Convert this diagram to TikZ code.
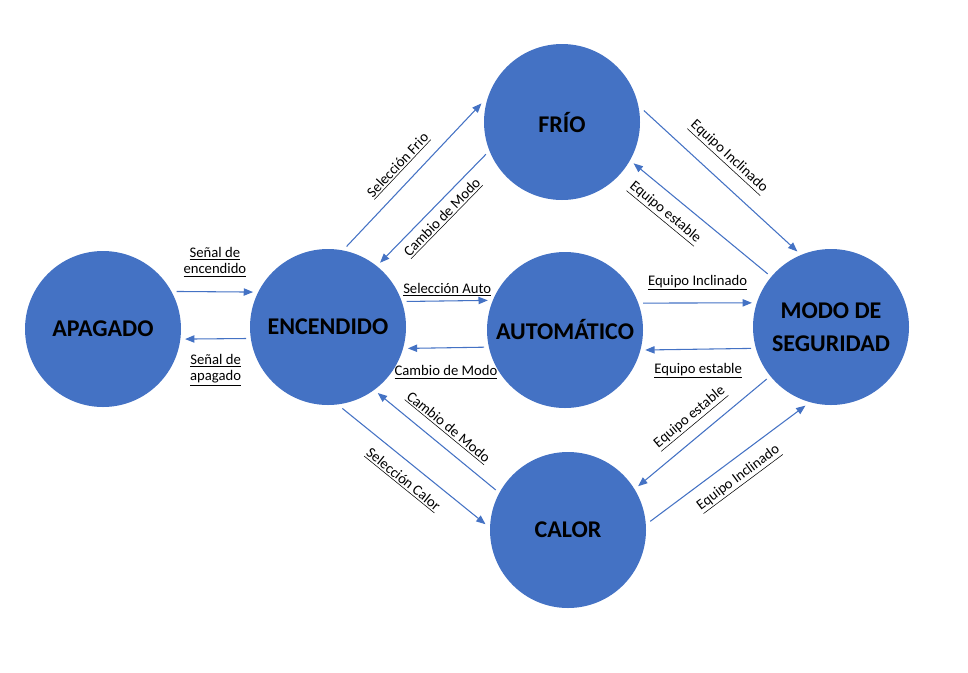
\documentclass[tikz,border=0pt]{standalone}
\usepackage{fontspec}
\setmainfont{Carlito}
\usetikzlibrary{arrows.meta}
\definecolor{azul}{HTML}{4472C4}

\begin{document}
\begin{tikzpicture}[x=0.75pt,y=-0.75pt,
    estado/.style={shape=circle,fill=azul,minimum size=117pt,inner sep=0pt,outer sep=3.5pt,align=center,font=\bfseries\fontsize{18}{25}\selectfont},
    flecha/.style={color=azul,line width=0.8pt,-{Triangle[length=7pt,width=5.5pt]}},
    etiqueta/.style={text=black,font=\fontsize{11}{12.5}\selectfont,align=center,inner sep=2pt}]
  \useasboundingbox (0,0) rectangle (968,672);

  \node[estado] (apagado) at (103,329) {APAGADO};
  \node[estado] (encendido) at (328,327) {ENCENDIDO};
  \node[estado] (frio) at (562,122) {FRÍO};
  \node[estado] (auto) at (565,330) {AUTOMÁTICO};
  \node[estado] (seguridad) at (831,327) {MODO DE\\SEGURIDAD};
  \node[estado] (calor) at (568,530) {CALOR};

  \draw[flecha] (apagado.27) -- node[etiqueta,above=9pt] {\underline{Señal de}\\\underline{encendido}} (encendido.155);
  \draw[flecha] (encendido.188) -- node[etiqueta,below=9pt] {\underline{Señal de}\\\underline{apagado}} (apagado.-7);
  \draw[flecha] (encendido.77) -- node[etiqueta,sloped,above=6pt,pos=0.48] {\underline{Selección Frio}} (frio.167);
  \draw[flecha] (frio.203) -- node[etiqueta,sloped,below=3pt] {\underline{Cambio de Modo}} (encendido.51);
  \draw[flecha] (encendido.18) -- node[etiqueta,above=1pt] {\underline{Selección Auto}} (auto.159);
  \draw[flecha] (auto.192) -- node[etiqueta,below=11pt] {\underline{Cambio de Modo}} (encendido.-15);
  \draw[flecha] (frio.8) -- node[etiqueta,sloped,above=9pt,pos=0.45] {\underline{Equipo Inclinado}} (seguridad.114);
  \draw[flecha] (seguridad.140) -- node[etiqueta,sloped,below=6pt,pos=0.68] {\underline{Equipo estable}} (frio.-30);
  \draw[flecha] (auto.19) -- node[etiqueta,above=7pt] {\underline{Equipo Inclinado}} (seguridad.163);
  \draw[flecha] (seguridad.195) -- node[etiqueta,below=8pt] {\underline{Equipo estable}} (auto.-14);
  \draw[flecha] (seguridad.219) -- node[etiqueta,sloped,above=6pt] {\underline{Equipo estable}} (calor.32);
  \draw[flecha] (calor.6) -- node[etiqueta,sloped,below=6pt] {\underline{Equipo Inclinado}} (seguridad.252);
  \draw[flecha] (encendido.280) -- node[etiqueta,sloped,below=6pt] {\underline{Selección Calor}} (calor.176);
  \draw[flecha] (calor.151) -- node[etiqueta,sloped,above=6pt] {\underline{Cambio de Modo}} (encendido.307);
\end{tikzpicture}
\end{document}
